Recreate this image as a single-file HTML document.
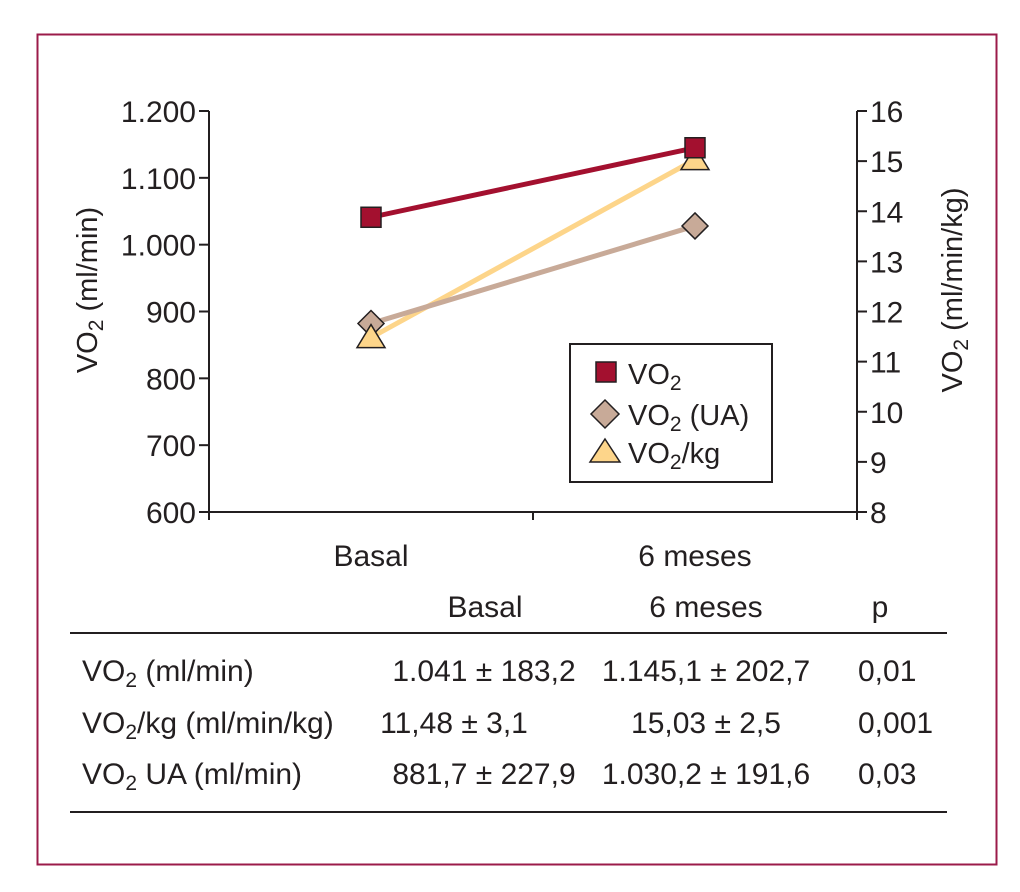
<!DOCTYPE html>
<html><head><meta charset="utf-8"><style>
body{margin:0;background:#fff;}
svg text{font-family:"Liberation Sans",sans-serif;fill:#231f20;}
</style></head><body>
<svg width="1020" height="887" xmlns="http://www.w3.org/2000/svg">
<rect x="37.5" y="34.5" width="959" height="830" fill="none" stroke="#9b1b4a" stroke-width="2"/>
<g id="chart"></g>
<g>
<rect x="570" y="344" width="202" height="138" fill="#fff" stroke="#231f20" stroke-width="2"/>
<rect x="596" y="362" width="20" height="20" fill="#a3102f" stroke="#231f20" stroke-width="1.5"/>
<text x="628" y="384" font-size="29">VO<tspan font-size="21" dy="6">2</tspan></text>
<polygon points="605,400 619,414 605,428 591,414" fill="#c8aa98" stroke="#231f20" stroke-width="1.5"/>
<text x="628" y="425" font-size="29">VO<tspan font-size="21" dy="6">2</tspan><tspan dy="-6"> (UA)</tspan></text>
<polygon points="605,439 620,462 590,462" fill="#fdd58a" stroke="#231f20" stroke-width="1.5"/>
<text x="628" y="463" font-size="29">VO<tspan font-size="21" dy="6">2</tspan><tspan dy="-6">/kg</tspan></text>
</g>
<g><text transform="translate(97,290) rotate(-90)" text-anchor="middle" font-size="29">VO<tspan font-size="21" dy="6">2</tspan><tspan dy="-6"> (ml/min)</tspan></text></g>
<g><text transform="translate(962,290) rotate(-90)" text-anchor="middle" font-size="29">VO<tspan font-size="21" dy="6">2</tspan><tspan dy="-6"> (ml/min/kg)</tspan></text></g>
<g font-size="30">
<text x="485" y="617" text-anchor="middle">Basal</text>
<text x="706" y="617" text-anchor="middle">6 meses</text>
<text x="880" y="617" text-anchor="middle">p</text>
<line x1="70" y1="633" x2="947" y2="633" stroke="#231f20" stroke-width="2"/>
<text x="82" y="681">VO<tspan font-size="21" dy="6">2</tspan><tspan dy="-6"> (ml/min)</tspan></text>
<text x="484" y="681" text-anchor="middle">1.041 ± 183,2</text>
<text x="706" y="681" text-anchor="middle">1.145,1 ± 202,7</text>
<text x="858" y="681">0,01</text>
<text x="82" y="733">VO<tspan font-size="21" dy="6">2</tspan><tspan dy="-6">/kg (ml/min/kg)</tspan></text>
<text x="454" y="733" text-anchor="middle">11,48 ± 3,1</text>
<text x="706" y="733" text-anchor="middle">15,03 ± 2,5</text>
<text x="858" y="733">0,001</text>
<text x="82" y="784">VO<tspan font-size="21" dy="6">2</tspan><tspan dy="-6"> UA (ml/min)</tspan></text>
<text x="484" y="784" text-anchor="middle">881,7 ± 227,9</text>
<text x="706" y="784" text-anchor="middle">1.030,2 ± 191,6</text>
<text x="858" y="784">0,03</text>
<line x1="70" y1="812" x2="947" y2="812" stroke="#231f20" stroke-width="2"/>
</g>
</svg>
<script>
const categories=["Basal","6 meses"];
const vo2=[1041,1145];
const vo2ua=[882,1028];
const vo2kg=[11.48,15.03];
const leftTicks=[600,700,800,900,1000,1100,1200];
const leftTickLabels=["600","700","800","900","1.000","1.100","1.200"];
const rightTicks=[8,9,10,11,12,13,14,15,16];

const NS="http://www.w3.org/2000/svg";
const g=document.getElementById('chart');
const X0=209,X1=857,Y0=512,Y1=111;
const yL=v=>Y0-(v-600)/600*(Y0-Y1);
const yR=v=>Y0-(v-8)/8*(Y0-Y1);
const xC=i=>X0+(i+0.5)*(X1-X0)/categories.length;
function el(t,a,p){const e=document.createElementNS(NS,t);for(const k in a)e.setAttribute(k,a[k]);(p||g).appendChild(e);return e;}
let e;
e=el('line',{x1:X0,y1:Y1,x2:X0,y2:Y0,stroke:'#231f20','stroke-width':2});


e=el('line',{x1:X1,y1:Y1,x2:X1,y2:Y0+8,stroke:'#231f20','stroke-width':2});


e=el('line',{x1:X0,y1:Y0,x2:X1,y2:Y0,stroke:'#231f20','stroke-width':2});


for(let i=0;i<=categories.length;i++){const x=X0+i*(X1-X0)/categories.length;el('line',{x1:x,y1:Y0,x2:x,y2:Y0+8,stroke:'#231f20','stroke-width':2});}
leftTicks.forEach((v,i)=>{const y=yL(v);el('line',{x1:X0-10,y1:y,x2:X0,y2:y,stroke:'#231f20','stroke-width':2});
 e=el('text',{x:X0-13,y:y+11,'text-anchor':'end','font-size':30});e.textContent=leftTickLabels[i];
 
 });
rightTicks.forEach(v=>{const y=yR(v);el('line',{x1:X1,y1:y,x2:X1+10,y2:y,stroke:'#231f20','stroke-width':2});
 e=el('text',{x:X1+13,y:y+11,'font-size':30});e.textContent=v;
 
 });
categories.forEach((c,i)=>{e=el('text',{x:xC(i),y:Y0+54,'text-anchor':'middle','font-size':30});e.textContent=c;
 
 });
e=el('line',{x1:xC(0),y1:yR(vo2kg[0]),x2:xC(1),y2:yR(vo2kg[1]),stroke:'#fdd58a','stroke-width':5});


e=el('line',{x1:xC(0),y1:yL(vo2ua[0]),x2:xC(1),y2:yL(vo2ua[1]),stroke:'#c8aa98','stroke-width':5});


e=el('line',{x1:xC(0),y1:yL(vo2[0]),x2:xC(1),y2:yL(vo2[1]),stroke:'#a3102f','stroke-width':5});


vo2ua.forEach((v,i)=>{const x=xC(i),y=yL(v);e=el('polygon',{points:`${x},${y-13} ${x+13},${y} ${x},${y+13} ${x-13},${y}`,fill:'#c8aa98',stroke:'#231f20','stroke-width':1.5});
 
 });
vo2kg.forEach((v,i)=>{const x=xC(i),y=yR(v);e=el('polygon',{points:`${x},${y-13} ${x+14},${y+10} ${x-14},${y+10}`,fill:'#fdd58a',stroke:'#231f20','stroke-width':1.5});
 
 });
vo2.forEach((v,i)=>{const x=xC(i),y=yL(v);e=el('rect',{x:x-10,y:y-10,width:20,height:20,fill:'#a3102f',stroke:'#231f20','stroke-width':1.5});
 
 });
</script>
</body></html>
